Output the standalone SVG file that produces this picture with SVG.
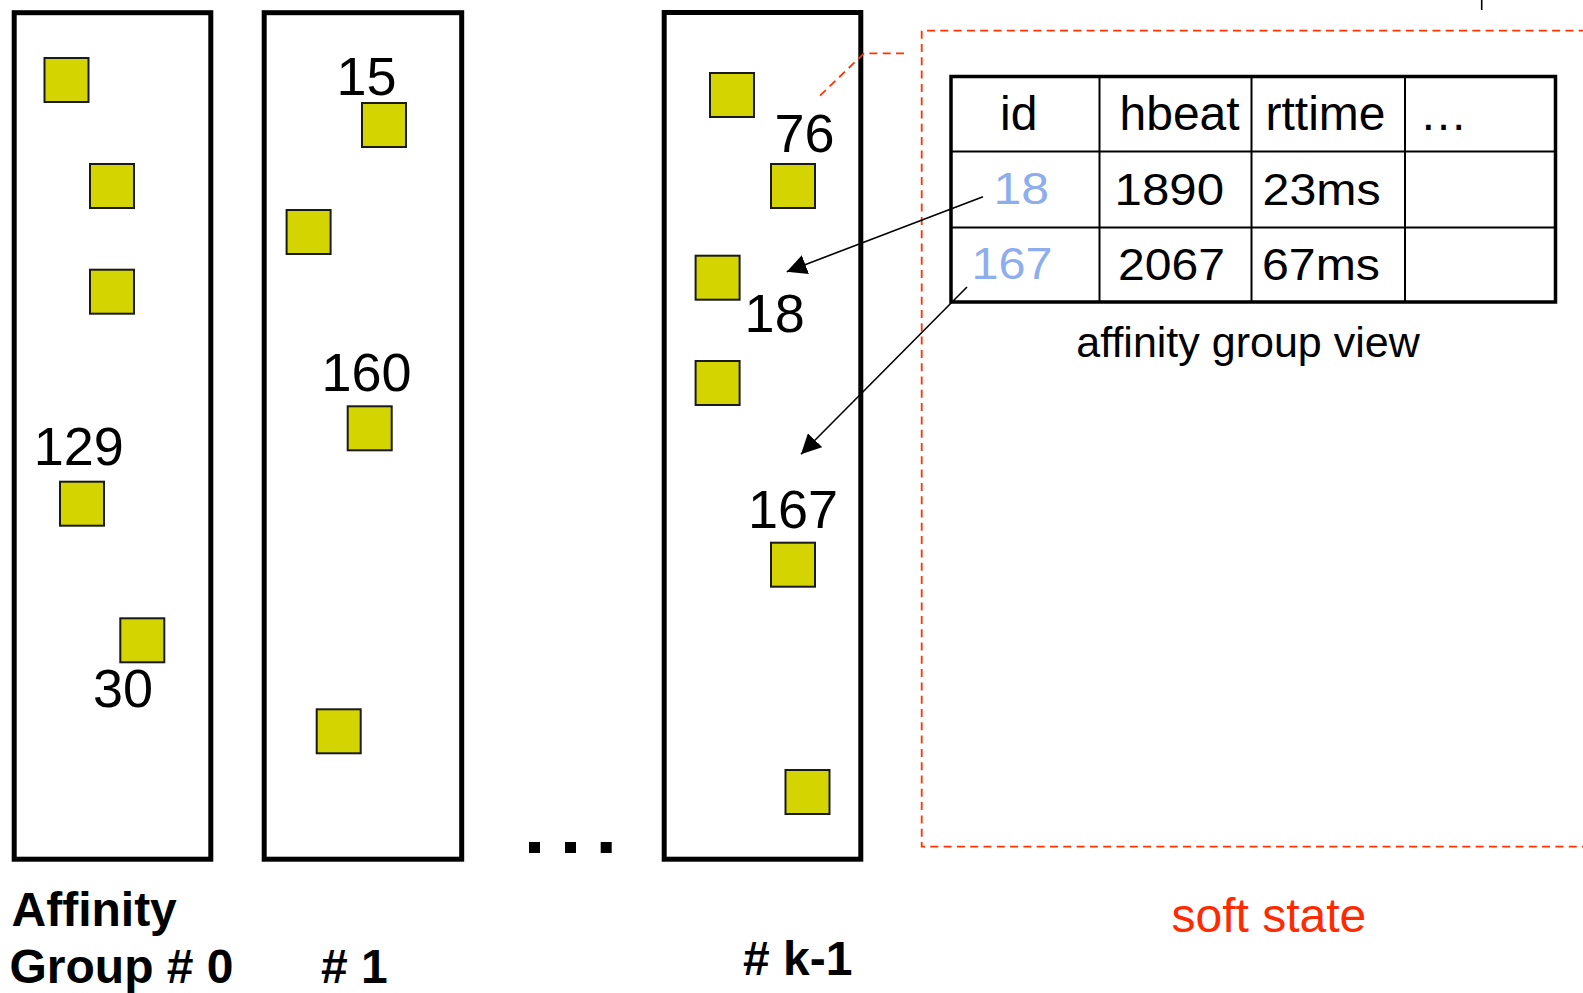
<svg xmlns="http://www.w3.org/2000/svg" width="1583" height="993" viewBox="0 0 1583 993">
  <style>
    text { font-family: "Liberation Sans", Arial, sans-serif; fill: #000; }
    .col { fill: none; stroke: #000; stroke-width: 5; }
    .node { fill: #d4d400; stroke: #1a1a1a; stroke-width: 2; }
    .num { font-size: 54px; }
    .hdr { font-size: 48px; }
    .cell { font-size: 45px; }
    .idc { fill: #8eadec; }
    .lbl { font-size: 48px; font-weight: bold; }
    .soft { fill: none; stroke: #ff3300; stroke-width: 1.8; stroke-dasharray: 8 5.3; }
    .grid { fill: none; stroke: #000; stroke-width: 2; }
    .link { fill: none; stroke: #000; stroke-width: 1.6; marker-end: url(#head); }
  </style>
  <defs>
    <marker id="head" viewBox="0 0 20 20" refX="20" refY="10" markerWidth="20" markerHeight="20" markerUnits="userSpaceOnUse" orient="auto">
      <path d="M0,0 L20,10 L0,20 z" fill="#000"/>
    </marker>
  </defs>
  <rect width="1583" height="993" fill="#fff"/>

  <!-- affinity group 0 -->
  <g id="group-0">
    <rect class="col" x="14.2" y="12.7" width="196.6" height="846.5"/>
    <rect class="node" x="44.5" y="58" width="44" height="44"/>
    <rect class="node" x="90" y="164" width="44" height="44"/>
    <rect class="node" x="90" y="269.7" width="44" height="44"/>
    <rect class="node" x="60" y="481.7" width="44" height="44"/>
    <rect class="node" x="120.3" y="618.3" width="44" height="44"/>
    <text class="num" x="33.8" y="465">129</text>
    <text class="num" x="93" y="707">30</text>
  </g>

  <!-- affinity group 1 -->
  <g id="group-1">
    <rect class="col" x="264.2" y="12.7" width="197.5" height="846.5"/>
    <rect class="node" x="362" y="103" width="44" height="44"/>
    <rect class="node" x="286.6" y="210" width="44" height="44"/>
    <rect class="node" x="347.7" y="406.3" width="44" height="44"/>
    <rect class="node" x="316.7" y="709.3" width="44" height="44"/>
    <text class="num" x="336.5" y="95">15</text>
    <text class="num" x="321.5" y="391">160</text>
  </g>

  <!-- ellipsis between groups -->
  <g id="more-groups">
    <rect x="529" y="842" width="11" height="11" fill="#000"/>
    <rect x="565" y="842" width="11" height="11" fill="#000"/>
    <rect x="600.7" y="842" width="11" height="11" fill="#000"/>
  </g>

  <!-- affinity group k-1 -->
  <g id="group-k-1">
    <rect class="col" x="664.2" y="12.5" width="196.6" height="846.7"/>
    <rect class="node" x="710" y="73" width="44" height="44"/>
    <rect class="node" x="771" y="164" width="44" height="44"/>
    <rect class="node" x="695.6" y="255.7" width="44" height="44"/>
    <rect class="node" x="695.6" y="361" width="44" height="44"/>
    <rect class="node" x="771" y="542.7" width="44" height="44"/>
    <rect class="node" x="785.5" y="770" width="44" height="44"/>
    <text class="num" x="774.4" y="151.7">76</text>
    <text class="num" x="744.6" y="332">18</text>
    <text class="num" x="748" y="528">167</text>
  </g>

  <!-- soft state held by node 76 -->
  <g id="soft-state">
    <polyline class="soft" points="820,95.7 864,53.3 906.7,53.3"/>
    <path class="soft" d="M1600,30.7 H921.7 V846.7 H1600"/>
    <text x="1171.5" y="931.7" font-size="48" style="fill:#ff2a00">soft state</text>
  </g>

  <!-- affinity group view table -->
  <g id="view-table">
    <rect x="951" y="76.5" width="604.5" height="225.5" fill="#fff" stroke="#000" stroke-width="3.5"/>
    <path class="grid" d="M951,151.5 H1555.5 M951,227.5 H1555.5 M1099.5,76.5 V302 M1251.5,76.5 V302 M1405,76.5 V302"/>
    <text class="hdr" x="1000" y="130">id</text>
    <text class="hdr" x="1119.5" y="130">hbeat</text>
    <text class="hdr" x="1265.5" y="130">rttime</text>
    <text class="hdr" x="1419.5" y="130">…</text>
    <text class="cell idc" x="993.5" y="204" textLength="55.7" lengthAdjust="spacingAndGlyphs">18</text>
    <text class="cell" x="1114.6" y="205" textLength="109.5" lengthAdjust="spacingAndGlyphs">1890</text>
    <text class="cell" x="1262.6" y="205" textLength="118" lengthAdjust="spacingAndGlyphs">23ms</text>
    <text class="cell idc" x="971.4" y="279" textLength="81" lengthAdjust="spacingAndGlyphs">167</text>
    <text class="cell" x="1118" y="280" textLength="107" lengthAdjust="spacingAndGlyphs">2067</text>
    <text class="cell" x="1262" y="280" textLength="118" lengthAdjust="spacingAndGlyphs">67ms</text>
    <text x="1248" y="356.5" font-size="43" text-anchor="middle">affinity group view</text>
  </g>

  <!-- table entries pointing at members of group k-1 -->
  <g id="connectors">
    <line class="link" x1="983" y1="196.7" x2="786.7" y2="271.7"/>
    <line class="link" x1="967" y1="287" x2="801" y2="454.3"/>
    <line x1="1481.7" y1="0" x2="1481.7" y2="10" stroke="#000" stroke-width="1.6"/>
  </g>

  <!-- group captions -->
  <g id="captions">
    <text class="lbl" x="11.5" y="926">Affinity</text>
    <text class="lbl" x="9.5" y="983">Group # 0</text>
    <text class="lbl" x="321" y="983"># 1</text>
    <text class="lbl" x="743" y="975"># k-1</text>
  </g>
</svg>
